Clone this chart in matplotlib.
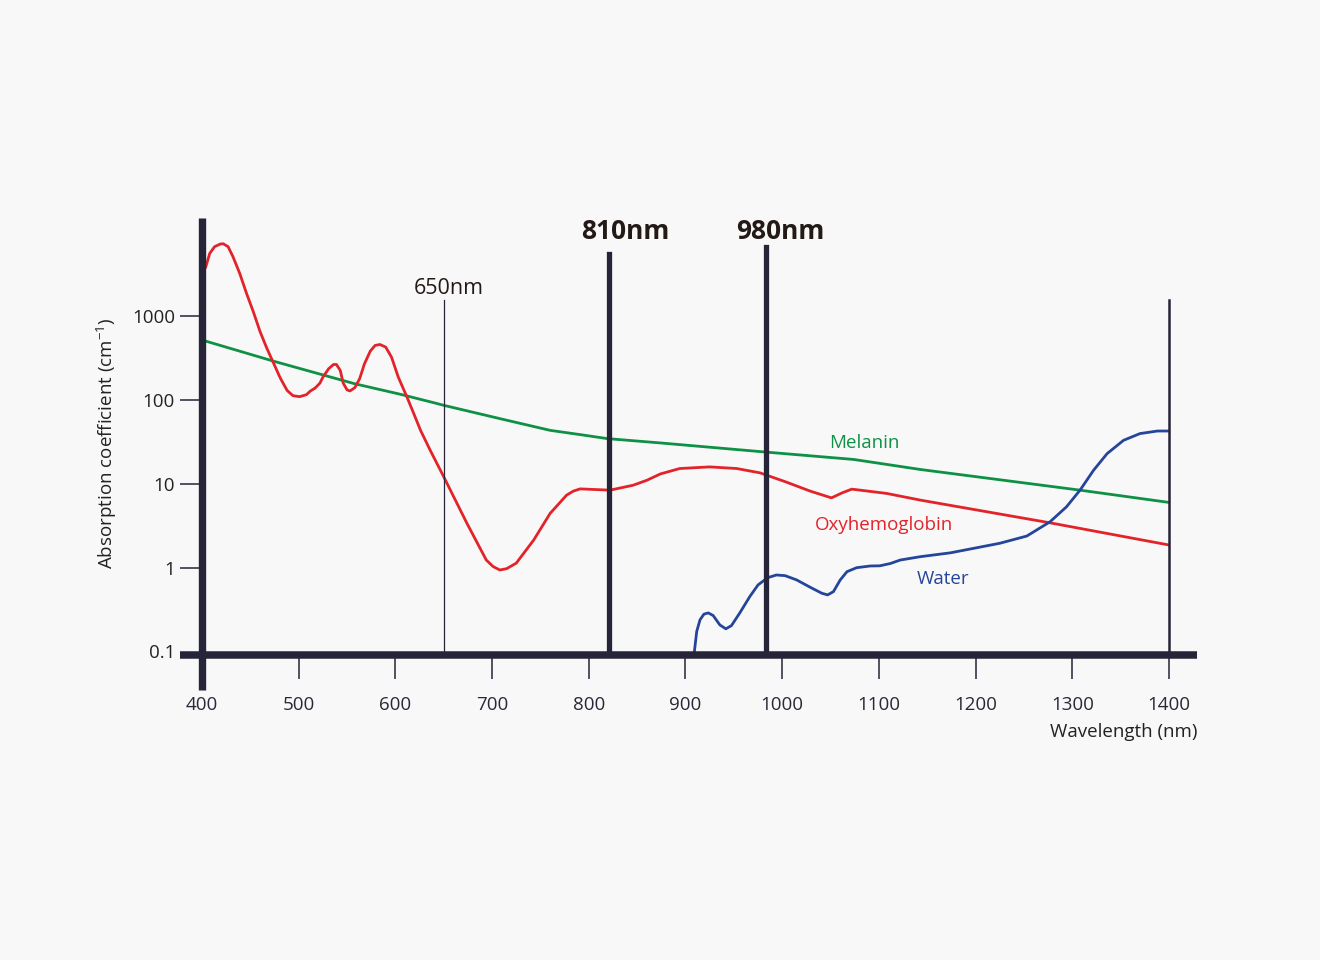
import numpy as np
import matplotlib
matplotlib.use('Agg')
import matplotlib.pyplot as plt
from matplotlib.ticker import NullLocator
import matplotlib.transforms as mtransforms

plt.rcParams['font.family'] = ['Open Sans', 'DejaVu Sans']
plt.rcParams['mathtext.fontset'] = 'custom'
plt.rcParams['mathtext.rm'] = 'Open Sans'
plt.rcParams['mathtext.it'] = 'Open Sans:italic'

# absorption spectra (wavelength nm, coefficient cm^-1)
oxy_wl = [400, 404, 408, 413, 419, 422, 427, 432, 439, 446, 453, 460, 467, 474, 481, 488,
          494, 501, 508, 512, 517, 522, 525, 531, 536, 539, 543, 546, 550, 553, 558, 563,
          568, 574, 579, 584, 590, 596, 603, 612, 619, 626, 636, 650, 674, 694, 701, 708,
          715, 725, 743, 760, 777, 784, 791, 822, 846, 860, 874, 894, 925, 953, 977, 1004,
          1029, 1051, 1062, 1072, 1108, 1143, 1277, 1400]
oxy_val = [3130, 3890, 5610, 6740, 7260, 7300, 6740, 5130, 3240, 1875, 1135, 656, 415, 275,
           182, 130, 112.5, 109.5, 115.6, 127.6, 138.6, 159, 187, 236, 265, 265, 225, 159,
           132, 128, 140, 179, 270, 382, 447, 459, 427, 324, 187, 108, 68.7, 43.4, 25.1,
           12.1, 3.37, 1.23, 1.03, 0.936, 0.97, 1.13, 2.13, 4.43, 7.31, 8.17, 8.69, 8.39,
           9.62, 11.0, 13.1, 15.2, 15.9, 15.2, 13.5, 10.5, 8.17, 6.79, 7.79, 8.63, 7.67,
           6.38, 3.42, 1.86]

mel_wl = [400, 405, 475, 558, 605, 641, 650, 708, 760, 791, 819, 874, 981, 1074, 1143, 1308, 1400]
mel_val = [519, 499, 288, 156, 117, 91.9, 86.3, 59.9, 43.4, 38.6, 34.6, 30.7, 24.0, 19.5, 14.8,
           8.39, 5.99]

water_wl = [908, 909, 911.6, 915, 919, 923.5, 928.6, 935.5, 941.7, 947.5, 956, 966.5, 975,
            985, 994, 1003, 1015, 1029, 1041, 1047, 1053, 1060, 1067, 1077, 1091, 1101, 1112,
            1122, 1143, 1174, 1225, 1253, 1277, 1294, 1308, 1322, 1336, 1353, 1370, 1388, 1400]
water_val = [0.0912, 0.0954, 0.173, 0.238, 0.278, 0.288, 0.268, 0.207, 0.186, 0.203, 0.286,
             0.451, 0.621, 0.758, 0.816, 0.801, 0.712, 0.582, 0.494, 0.472, 0.517, 0.712,
             0.894, 0.997, 1.045, 1.05, 1.12, 1.23, 1.35, 1.50, 1.95, 2.38, 3.52, 5.31, 8.39,
             14.5, 22.9, 33.0, 39.7, 42.6, 42.6]

x_ticks = [400, 500, 600, 700, 800, 900, 1000, 1100, 1200, 1300, 1400]
y_ticks = [0.1, 1, 10, 100, 1000]
y_tick_labels = ['0.1', '1', '10', '100', '1000']

bg = '#f8f8f8'
axis_c = '#262438'
red = '#e2232a'
green = '#0e9145'
blue = '#25459a'

fig = plt.figure(figsize=(13.2, 9.6), dpi=100, facecolor=bg)
ax = fig.add_axes([202 / 1320, 1 - 655 / 960, 967 / 1320, 437 / 960])
ax.set_facecolor('none')
ax.set_yscale('log')
ax.set_xlim(400, 1400)
ax.set_ylim(10 ** -1.043, 10 ** 4.171)
for s in ax.spines.values():
    s.set_visible(False)

# curves
ax.plot(mel_wl, mel_val, color=green, lw=2.0, zorder=3, solid_joinstyle='round')
ax.plot(oxy_wl, oxy_val, color=red, lw=2.0, zorder=3, solid_joinstyle='round')
ax.plot(water_wl, water_val, color=blue, lw=2.0, zorder=3, solid_joinstyle='round')

# wavelength markers
ax.axvline(650, ymin=0, ymax=0.812, color=axis_c, lw=0.9, zorder=4)
ax.axvline(821, ymin=0, ymax=0.918, color=axis_c, lw=3.8, zorder=4)
ax.axvline(983, ymin=0, ymax=0.934, color=axis_c, lw=3.8, zorder=4)
ax.axvline(1400, ymin=0, ymax=0.812, color=axis_c, lw=1.8, zorder=4, clip_on=False)

trans = mtransforms.blended_transform_factory(ax.transData, ax.transAxes)
ax.text(655, 0.838, '650nm', transform=trans, ha='center', va='center',
        fontsize=15.5, color='#231a17')
ax.text(838, 0.968, '810nm', transform=trans, ha='center', va='center',
        fontsize=19, fontweight='bold', color='#231a17')
ax.text(998, 0.968, '980nm', transform=trans, ha='center', va='center',
        fontsize=19, fontweight='bold', color='#231a17')

# curve labels
ax.text(1085, 31, 'Melanin', color=green, fontsize=13.5, ha='center', va='center')
ax.text(1105, 3.2, 'Oxyhemoglobin', color=red, fontsize=13.5, ha='center', va='center')
ax.text(1166, 0.73, 'Water', color=blue, fontsize=13.5, ha='center', va='center')

# heavy axis bars
ax.plot([-22 / 967, 995 / 967], [0, 0], transform=ax.transAxes, color=axis_c, lw=5.4,
        solid_capstyle='butt', clip_on=False, zorder=5)
ax.plot([0, 0], [-35 / 437, 1], transform=ax.transAxes, color=axis_c, lw=5.3,
        solid_capstyle='butt', clip_on=False, zorder=5)

ax.set_xticks(x_ticks)
ax.set_xticklabels([str(v) for v in x_ticks])
ax.set_yticks(y_ticks)
ax.set_yticklabels(y_tick_labels)
ax.yaxis.set_minor_locator(NullLocator())
ax.tick_params(axis='x', length=17.3, width=1.1, color=axis_c, pad=12, labelsize=13.5,
               labelcolor='#2a2838')
ax.tick_params(axis='y', length=16, width=1.1, color=axis_c, pad=3.5, labelsize=13.5,
               labelcolor='#222222')
ax.yaxis.get_major_ticks()[0].tick1line.set_visible(False)

fig.text(107 / 1320, 1 - 443 / 960, 'Absorption coefficient (cm$^{-1}$)', rotation=90,
         ha='center', va='center', fontsize=13.5, color='#222222')
fig.text(1197 / 1320, 1 - 732 / 960, 'Wavelength (nm)', ha='right', va='center',
         fontsize=13.5, color='#222222')

fig.savefig('out.png', dpi=100, facecolor=bg)
